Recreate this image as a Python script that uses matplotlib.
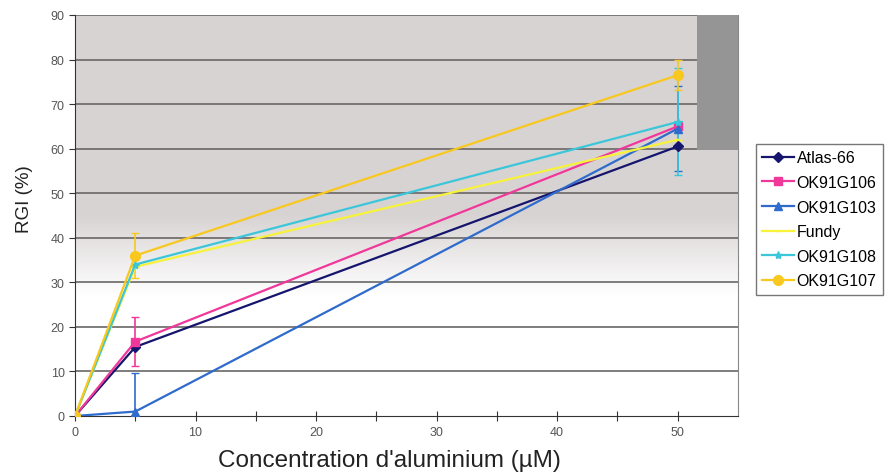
import numpy as np
import matplotlib
matplotlib.use("Agg")
import matplotlib.pyplot as plt
from matplotlib.patches import Rectangle
from matplotlib.lines import Line2D

plt.rcParams["font.family"] = ["Liberation Sans", "DejaVu Sans"]

# ========= DATA
concentrations = [0, 5, 50]

series_names = ["Atlas-66", "OK91G106", "OK91G103", "Fundy", "OK91G108", "OK91G107"]

atlas66 = [0, 15.5, 60.5]
ok91g106 = [0, 16.7, 65.0]
ok91g103 = [0, 1.0, 64.5]
fundy = [0, 33.5, 62.0]
ok91g108 = [0, 34.0, 66.0]
ok91g107 = [0, 36.0, 76.5]

# error bars (0 = none visible)
err_atlas66 = [0, 0, 0]
err_ok91g106 = [0, 5.5, 0]
err_ok91g103 = [0, 8.6, 9.5]
err_fundy = [0, 0, 0]
err_ok91g108 = [0, 0, 12.0]
err_ok91g107 = [0, 5.0, 3.3]

x_tick_values = [0, 5, 10, 15, 20, 25, 30, 35, 40, 45, 50]
x_tick_labels = ["0", "", "10", "", "20", "", "30", "", "40", "", "50"]
y_tick_values = [0, 10, 20, 30, 40, 50, 60, 70, 80, 90]

values = [atlas66, ok91g106, ok91g103, fundy, ok91g108, ok91g107]
errors = [err_atlas66, err_ok91g106, err_ok91g103, err_fundy, err_ok91g108, err_ok91g107]

colors = ["#15156e", "#f0379a", "#2f6bcc", "#f7f23a", "#3cc6da", "#f9c81e"]
markers = ["D", "s", "^", "_", "*", "o"]
msizes = [5, 6, 6, 4, 6, 7]

# ========= FIGURE
fig = plt.figure(figsize=(8.85, 4.77), dpi=100)
ax = fig.add_axes([75 / 885, 1 - 417 / 477, (738 - 75) / 885, (417 - 16) / 477])

# fond: gris en haut, blanc en bas
yy = np.linspace(0, 90, 300)
shade = np.clip((yy - 27) / (45 - 27), 0, 1)
top = np.array([0.85, 0.83, 0.83])
rgb = 1 - shade[:, None] * (1 - top[None, :])
img = np.repeat(rgb[:, None, :], 2, axis=1)
ax.imshow(img, extent=[0, 55, 0, 90], origin="lower", aspect="auto", zorder=0)

for yv in y_tick_values[1:]:
    ax.axhline(yv, color="#6a6666", lw=1.2, zorder=1)

ax.add_patch(Rectangle((51.6, 59.8), 3.4, 30.2, facecolor="#959595",
                       edgecolor="none", zorder=2))

handles = []
for name, vals, errs, c, m, ms in zip(series_names, values, errors, colors, markers, msizes):
    ax.errorbar(concentrations, vals, yerr=errs, color=c, ecolor=c, lw=1.6,
                marker=m, markersize=ms, capsize=3, elinewidth=1.2, zorder=3)
    handles.append(Line2D([], [], color=c, lw=1.6, marker=m, markersize=ms, label=name))

ax.set_xlim(0, 55)
ax.set_ylim(0, 90)
ax.set_xticks(x_tick_values)
ax.set_xticklabels(x_tick_labels)
ax.set_yticks(y_tick_values)
ax.tick_params(axis="x", direction="inout", length=7, colors="#333333",
               labelsize=9, labelcolor="#555555", pad=4)
ax.tick_params(axis="y", direction="out", length=4, colors="#333333",
               labelsize=9, labelcolor="#555555")

ax.spines["top"].set_visible(False)
ax.spines["right"].set_color("#888888")
ax.spines["left"].set_color("#333333")
ax.spines["bottom"].set_color("#333333")

ax.set_xlabel("Concentration d'aluminium (µM)", fontsize=17.5, color="#222222")
ax.xaxis.set_label_coords(0.475, -0.083)
ax.set_ylabel("RGI (%)", fontsize=13.5, color="#222222")
ax.yaxis.set_label_coords(-0.064, 0.544)

leg = fig.legend(handles=handles, loc="upper left",
                 bbox_to_anchor=(756 / 885, 1 - 145 / 477),
                 fontsize=11.5, frameon=True, fancybox=False, handlelength=2.0,
                 handletextpad=0.15, borderpad=0.4, labelspacing=0.6,
                 borderaxespad=0)
leg.get_frame().set_edgecolor("#555555")
leg.get_frame().set_linewidth(1.0)

plt.savefig("out.png", dpi=100)
plt.close()
